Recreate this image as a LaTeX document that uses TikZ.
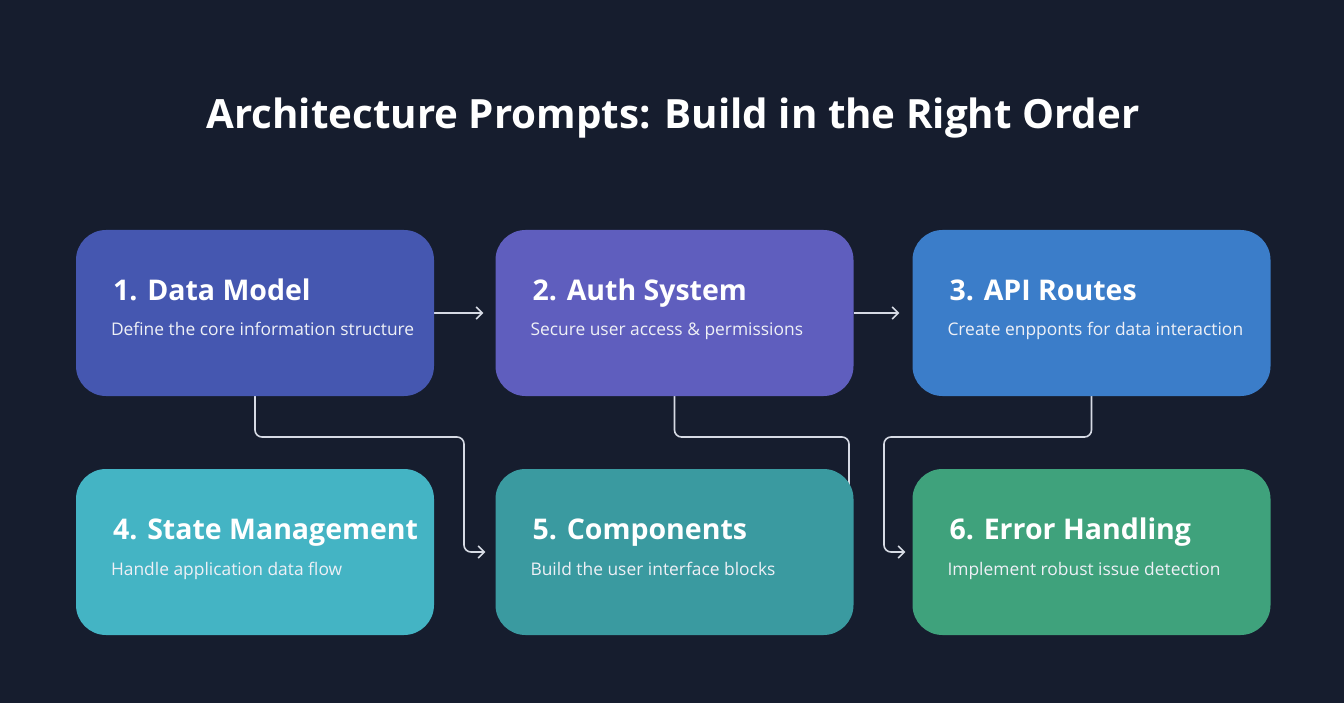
\documentclass[tikz,border=0pt]{standalone}
\usepackage{fontspec}
\setmainfont{Open Sans}
\usetikzlibrary{positioning, calc, arrows.meta, backgrounds}

\begin{document}
\begin{tikzpicture}[x=1pt, y=-1pt,
  box/.style={rounded corners=30pt, minimum width=358pt, minimum height=166pt, inner sep=0pt},
  head/.style={anchor=base west, inner sep=0pt, text=white, font=\fontsize{28.5}{34}\selectfont\bfseries},
  sub/.style={anchor=base west, inner sep=0pt, text=subcolor, font=\fontsize{17.4}{21}\selectfont},
  link/.style={draw=linkcolor, line width=1.6pt, rounded corners=7pt},
  flow/.style={-{Straight Barb[length=6pt, width=12pt, line width=1.6pt]}}]

%colours
\definecolor{bgcolor}{HTML}{161D2E}
\definecolor{linkcolor}{HTML}{D6DAE4}
\definecolor{subcolor}{HTML}{EEF0F6}
\definecolor{datacolor}{HTML}{4557B0}
\definecolor{authcolor}{HTML}{5F5EBE}
\definecolor{apicolor}{HTML}{3B7DC9}
\definecolor{statecolor}{HTML}{44B4C4}
\definecolor{compcolor}{HTML}{3A9AA0}
\definecolor{errorcolor}{HTML}{3FA27C}

%title
\node[text=white, font=\fontsize{40.3}{46}\selectfont\bfseries] (title) at (673,118) {Architecture Prompts: Build in the Right Order};

%boxes
\node[box, fill=datacolor]  (data)  at (255,313)   {};
\node[box, fill=authcolor]  (auth)  at (674.5,313) {};
\node[box, fill=apicolor]   (api)   at (1091.5,313) {};
\node[box, fill=statecolor] (state) at (255,552)   {};
\node[box, fill=compcolor]  (comp)  at (674.5,552) {};
\node[box, fill=errorcolor] (error) at (1091.5,552) {};

%texts
\node[head] (dataH)  at ($(data.north west)+(37,71)$)  {1. Data Model};
\node[sub]  (dataS)  at ($(data.north west)+(35,106)$) {Define the core information structure};
\node[head] (authH)  at ($(auth.north west)+(37,71)$)  {2. Auth System};
\node[sub]  (authS)  at ($(auth.north west)+(35,106)$) {Secure user access \& permissions};
\node[head] (apiH)   at ($(api.north west)+(37,71)$)   {3. API Routes};
\node[sub]  (apiS)   at ($(api.north west)+(35,106)$)  {Create enpponts for data interaction};
\node[head] (stateH) at ($(state.north west)+(37,71)$)  {4. State Management};
\node[sub]  (stateS) at ($(state.north west)+(35,107)$) {Handle application data flow};
\node[head] (compH)  at ($(comp.north west)+(37,71)$)  {5. Components};
\node[sub]  (compS)  at ($(comp.north west)+(35,107)$) {Build the user interface blocks};
\node[head] (errorH) at ($(error.north west)+(37,71)$)  {6. Error Handling};
\node[sub]  (errorS) at ($(error.north west)+(35,107)$) {Implement robust issue detection};

%turn points
\coordinate (t1) at (464,437);
\coordinate (t2) at (849,437);
\coordinate (e2) at (849,500);
\coordinate (t3) at (884,437);

\begin{pgfonlayer}{background}
  \fill[bgcolor] (0,0) rectangle (1344,703);
  %connectors
  \draw[link, flow, shorten >=12pt] (data.east) -- (auth.west);
  \draw[link, flow, shorten >=13pt] (auth.east) -- (api.west);
  \draw[link, flow, shorten >=10pt] (data.south) |- (t1) |- (comp.west);
  \draw[link] (auth.south) |- (t2) -- (e2);
  \draw[link, flow, shorten >=7pt] (api.south) |- (t3) |- (error.west);
\end{pgfonlayer}
\end{tikzpicture}
\end{document}
